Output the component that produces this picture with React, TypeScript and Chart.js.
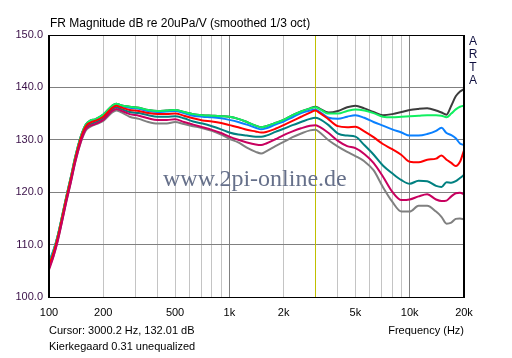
import React, { useEffect, useRef } from "react";
import { Chart, registerables } from "chart.js";

Chart.register(...registerables);

const freqs = [100, 106, 112, 118, 125, 132, 140, 150, 160, 170, 180, 200, 224, 236, 250, 280, 315, 355, 400, 450, 500, 560, 630, 710, 800, 900, 1000, 1120, 1250, 1400, 1500, 1600, 1800, 2000, 2240, 2500, 2800, 3000, 3150, 3550, 4000, 4500, 5000, 5600, 6300, 7100, 8000, 9000, 10000, 11200, 12500, 14000, 15000, 16000, 17000, 18000, 19000, 20000];

const blackDb = [106.3, 108.8, 111.8, 115.3, 119.3, 122.8, 126.8, 130.6, 132.9, 133.7, 133.9, 134.8, 136.5, 136.9, 136.6, 136.3, 136.1, 135.7, 135.5, 135.6, 135.7, 135.3, 134.9, 134.7, 134.6, 134.5, 134.4, 134.0, 133.4, 132.7, 132.4, 132.6, 133.2, 133.8, 134.7, 135.4, 136.0, 136.3, 136.0, 135.2, 135.5, 136.2, 136.5, 136.0, 135.3, 134.7, 134.9, 135.3, 135.7, 135.9, 136.0, 135.6, 135.2, 134.8, 136.5, 138.3, 139.2, 139.7];
const greenDb = [106.3, 108.8, 111.8, 115.3, 119.3, 122.8, 126.8, 130.6, 132.9, 133.7, 133.9, 134.8, 136.5, 136.9, 136.6, 136.3, 136.1, 135.7, 135.5, 135.6, 135.7, 135.3, 134.9, 134.7, 134.6, 134.5, 134.4, 134.0, 133.4, 132.7, 132.4, 132.6, 133.2, 133.8, 134.7, 135.4, 136.0, 136.2, 135.9, 135.0, 135.0, 135.5, 135.8, 135.6, 135.1, 134.4, 134.3, 134.4, 134.5, 134.6, 134.7, 134.7, 134.6, 134.3, 135.0, 135.8, 136.3, 136.5];
const blueDb = [106.8, 109.0, 111.8, 115.2, 119.2, 122.7, 126.7, 130.5, 132.8, 133.6, 133.8, 134.7, 136.4, 136.8, 136.5, 136.1, 135.9, 135.5, 135.3, 135.4, 135.5, 135.1, 134.6, 134.4, 134.3, 134.1, 133.8, 133.4, 132.9, 132.3, 132.0, 132.2, 132.9, 133.5, 134.3, 135.1, 135.6, 135.8, 135.4, 134.2, 134.0, 134.4, 134.7, 134.2, 133.4, 132.7, 132.0, 131.4, 130.8, 130.8, 131.1, 131.7, 132.3, 131.3, 130.9, 130.3, 129.3, 129.0];
const redDb = [106.0, 108.5, 111.5, 115.0, 119.0, 122.5, 126.5, 130.3, 132.6, 133.3, 133.6, 134.4, 136.1, 136.5, 136.2, 135.7, 135.5, 135.1, 134.9, 134.9, 135.0, 134.6, 134.1, 133.7, 133.5, 133.2, 132.8, 132.4, 131.9, 131.6, 131.4, 131.5, 132.1, 132.8, 133.6, 134.4, 135.2, 135.6, 135.2, 133.9, 132.6, 132.4, 132.5, 131.6, 130.5, 129.2, 128.2, 127.1, 125.8, 125.7, 126.2, 126.4, 127.0, 126.2, 125.6, 125.0, 125.8, 128.0];
const tealDb = [105.8, 108.2, 111.2, 114.7, 118.7, 122.2, 126.2, 130.0, 132.3, 133.0, 133.3, 134.1, 135.8, 136.2, 135.9, 135.3, 135.1, 134.7, 134.4, 134.4, 134.5, 134.1, 133.5, 133.1, 132.6, 132.0, 131.4, 131.0, 130.8, 130.6, 130.6, 130.8, 131.5, 132.1, 132.8, 133.4, 134.0, 134.2, 134.0, 132.8, 131.2, 130.8, 130.6, 129.0, 127.2, 125.1, 123.6, 122.3, 121.6, 122.2, 122.1, 121.2, 121.0, 121.9, 121.8, 122.1, 122.7, 123.3];
const magentaDb = [105.2, 107.8, 110.8, 114.3, 118.3, 121.8, 125.8, 129.6, 132.0, 132.7, 133.0, 133.8, 135.5, 135.9, 135.6, 134.9, 134.6, 134.1, 133.8, 133.8, 133.9, 133.4, 132.9, 132.4, 131.9, 131.3, 130.6, 130.0, 129.5, 129.1, 129.0, 129.3, 130.1, 130.9, 131.6, 132.2, 132.7, 132.8, 132.5, 131.3, 129.8, 128.8, 128.4, 127.3, 125.6, 123.0, 120.1, 118.5, 118.6, 119.2, 119.6, 118.6, 118.3, 118.4, 119.2, 119.8, 119.9, 119.6];
const grayDb = [105.5, 107.9, 110.9, 114.4, 118.4, 121.9, 125.9, 129.5, 131.8, 132.5, 132.9, 133.6, 135.2, 135.6, 135.3, 134.4, 134.0, 133.4, 133.1, 133.1, 133.4, 133.0, 132.6, 132.2, 131.7, 131.0, 130.2, 129.5, 128.5, 127.7, 127.4, 127.8, 128.8, 129.6, 130.5, 131.2, 131.8, 131.9, 131.5, 129.9, 128.7, 127.7, 126.9, 125.9, 124.2, 121.0, 118.2, 116.3, 116.3, 117.4, 117.4, 116.3, 115.3, 114.0, 114.2, 114.9, 115.0, 114.8];

const xGridValues = [100, 200, 300, 400, 500, 600, 700, 800, 900, 1000, 2000, 3000, 4000, 5000, 6000, 7000, 8000, 9000, 10000, 20000];
const xLabelValues = [100, 200, 500, 1000, 2000, 5000, 10000, 20000];
const xLabelTexts = ["100", "200", "500", "1k", "2k", "5k", "10k", "20k"];
const yTicks = [100, 110, 120, 130, 140, 150];

const titleText = "FR Magnitude dB re 20uPa/V (smoothed 1/3 oct)";
const cursorText = "Cursor: 3000.2 Hz, 132.01 dB";
const noteText = "Kierkegaard 0.31 unequalized";
const axisText = "Frequency (Hz)";
const watermark = "www.2pi-online.de";
const sideLetters = ["A", "R", "T", "A"];
const cursorFreq = 3000.2;

const FONT = "'Liberation Sans', Arial, sans-serif";

const seriesDefs = [
  { label: "black", data: blackDb, color: "#3c3c3c", order: 5 },
  { label: "green", data: greenDb, color: "#10f060", order: 2 },
  { label: "blue", data: blueDb, color: "#0a80ff", order: 3 },
  { label: "red", data: redDb, color: "#ff0000", order: 1 },
  { label: "teal", data: tealDb, color: "#008080", order: 4 },
  { label: "magenta", data: magentaDb, color: "#c8005f", order: 0 },
  { label: "gray", data: grayDb, color: "#808080", order: 6 },
];

const decoPlugin = {
  id: "deco",
  beforeDatasetsDraw(chart: any) {
    const { ctx, chartArea, scales } = chart;
    const x = scales.x;
    const cx = Math.round(x.getPixelForValue(cursorFreq)) + 0.5;
    ctx.save();
    ctx.strokeStyle = "#c0c000";
    ctx.lineWidth = 1;
    ctx.beginPath();
    ctx.moveTo(cx, chartArea.top);
    ctx.lineTo(cx, chartArea.bottom);
    ctx.stroke();
    ctx.font = "24px 'Liberation Serif', 'Times New Roman', serif";
    ctx.fillStyle = "#66708a";
    ctx.textBaseline = "middle";
    ctx.textAlign = "left";
    ctx.fillText(watermark, 163, 180);
    ctx.restore();
  },
  afterDraw(chart: any) {
    const { ctx, chartArea } = chart;
    const { left, right, top, bottom } = chartArea;
    ctx.save();
    ctx.strokeStyle = "#000000";
    ctx.lineWidth = 1;
    ctx.strokeRect(left + 0.5, top + 0.5, right - left - 1, bottom - top);
    ctx.lineWidth = 2;
    ctx.beginPath();
    ctx.moveTo(left, top);
    ctx.lineTo(left, bottom + 1);
    ctx.moveTo(right, top);
    ctx.lineTo(right, bottom + 1);
    ctx.stroke();

    ctx.fillStyle = "#000000";
    ctx.font = `12px ${FONT}`;
    ctx.textBaseline = "middle";
    ctx.textAlign = "left";
    ctx.fillText(titleText, 50, 24);
    ctx.font = `11px ${FONT}`;
    ctx.fillText(cursorText, 49, 331);
    ctx.fillText(noteText, 49, 347);
    ctx.textAlign = "right";
    ctx.fillText(axisText, 464, 331);
    ctx.font = `12px ${FONT}`;
    ctx.textAlign = "center";
    ctx.fillStyle = "#101040";
    const ys = [42, 55, 68, 81];
    sideLetters.forEach((s, i) => ctx.fillText(s, 473, ys[i]));
    ctx.restore();
  },
};

export default function App() {
  const ref = useRef<HTMLCanvasElement | null>(null);
  useEffect(() => {
    if (!ref.current) return;
    const chart = new Chart(ref.current, {
      type: "line",
      data: {
        datasets: seriesDefs.map((s) => ({
          label: s.label,
          data: freqs.map((f, i) => ({ x: f, y: s.data[i] })),
          borderColor: s.color,
          backgroundColor: s.color,
          borderWidth: 2,
          pointRadius: 0,
          tension: 0,
          cubicInterpolationMode: "monotone" as const,
          order: s.order,
          fill: false,
        })),
      },
      options: {
        animation: false,
        responsive: false,
        maintainAspectRatio: false,
        layout: { padding: { left: 0, right: 48, top: 35, bottom: 0 } },
        plugins: { legend: { display: false }, tooltip: { enabled: false }, title: { display: false } },
        scales: {
          x: {
            type: "logarithmic",
            min: 100,
            max: 20000,
            afterBuildTicks: (scale: any) => {
              scale.ticks = xGridValues.map((v) => ({ value: v }));
            },
            afterFit: (scale: any) => {
              scale.height = 61;
            },
            border: { display: false },
            grid: {
              drawTicks: false,
              color: (c: any) => {
                const v = c.tick && c.tick.value;
                if (v === 100 || v === 20000) return "rgba(0,0,0,0)";
                if (v === 1000 || v === 10000) return "#808080";
                return "#c4c4c4";
              },
              lineWidth: 1,
            },
            ticks: {
              autoSkip: false,
              maxRotation: 0,
              minRotation: 0,
              padding: 9,
              color: "#000000",
              font: { family: FONT, size: 11 },
              callback: (v: any) => {
                const idx = xLabelValues.indexOf(Number(v));
                return idx >= 0 ? xLabelTexts[idx] : "";
              },
            },
          },
          y: {
            type: "linear",
            min: 100,
            max: 150,
            afterBuildTicks: (scale: any) => {
              scale.ticks = yTicks.map((v) => ({ value: v }));
            },
            afterFit: (scale: any) => {
              scale.width = 49;
            },
            border: { display: false },
            grid: {
              drawTicks: false,
              color: (c: any) => {
                const v = c.tick && c.tick.value;
                if (v === 100 || v === 150) return "rgba(0,0,0,0)";
                return "#808080";
              },
            },
            ticks: {
              padding: 6,
              color: "#3a1048",
              font: { family: FONT, size: 11 },
              callback: (v: any) => Number(v).toFixed(1),
            },
          },
        },
      },
      plugins: [decoPlugin],
    });
    return () => chart.destroy();
  }, []);
  return (
    <div style={{ position: "fixed", left: 0, top: 0, width: 512, height: 358, background: "#ffffff" }}>
      <canvas ref={ref} width={512} height={358} style={{ display: "block", width: 512, height: 358 }} />
    </div>
  );
}
